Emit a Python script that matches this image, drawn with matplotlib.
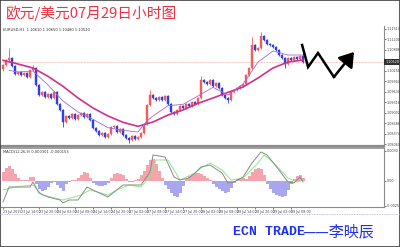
import matplotlib
matplotlib.use('Agg')
import matplotlib.pyplot as plt
import matplotlib.transforms as mtransforms
from matplotlib.lines import Line2D
from matplotlib.patches import Rectangle
import numpy as np

# ---------------- data ----------------
title = '欧元/美元07月29日小时图'
signature_latin = 'ECN TRADE'
signature_cjk = '——李映辰'

first_open = 1.1030
closes = [1.1043, 1.1058, 1.1064, 1.1040, 1.1016, 1.1022, 1.1013, 1.1019, 1.1007, 1.1028,
          1.1034, 1.0983, 1.0953, 1.0962, 1.0947, 1.0956, 1.0944, 1.0962, 1.0926, 1.0908,
          1.0872, 1.0890, 1.0884, 1.0896, 1.0881, 1.0893, 1.0899, 1.0887, 1.0896, 1.0878,
          1.0854, 1.0845, 1.0833, 1.0839, 1.0827, 1.0836, 1.0857, 1.0860, 1.0842, 1.0851,
          1.0833, 1.0824, 1.0818, 1.0830, 1.0821, 1.0827, 1.0839, 1.0866, 1.0923, 1.0953,
          1.0944, 1.0938, 1.0947, 1.0938, 1.0950, 1.0926, 1.0902, 1.0896, 1.0908, 1.0920,
          1.0914, 1.0926, 1.0920, 1.0932, 1.0926, 1.0944, 1.0998, 1.0992, 1.0986, 1.0998,
          1.0980, 1.0989, 1.0974, 1.0953, 1.0944, 1.0938, 1.0962, 1.0968, 1.0974, 1.0980,
          1.0986, 1.1013, 1.1034, 1.1103, 1.1088, 1.1094, 1.1130, 1.1118, 1.1106, 1.1103,
          1.1097, 1.1088, 1.1073, 1.1064, 1.1046, 1.1064, 1.1058, 1.1067, 1.1061, 1.1070,
          1.1052]
wick = 0.0004
high_marks = {2: 1.1094, 10: 1.1043, 49: 1.0968, 66: 1.1010, 83: 1.1127, 86: 1.1142, 100: 1.1097}
low_marks = {20: 1.0857, 42: 1.0809, 75: 1.0929, 94: 1.1034}

slow_idx = [0, 5, 10, 15, 20, 25, 30, 35, 40, 45, 50, 55, 60, 65, 70, 75, 80, 85, 90, 95, 100]
slow_ma = [1.1057, 1.1046, 1.1034, 1.1009, 1.0979, 1.0944, 1.0914, 1.0890, 1.0871, 1.0859, 1.0872,
           1.0893, 1.0908, 1.0928, 1.0944, 1.0961, 1.0977, 1.1004, 1.1034, 1.1052, 1.1058]
fast_idx = [2, 5, 10, 15, 20, 25, 30, 35, 40, 45, 48, 50, 55, 60, 65, 70, 75, 80, 83, 85, 90, 95, 100]
fast_ma = [1.1027, 1.1022, 1.1025, 1.0983, 1.0935, 1.0902, 1.0880, 1.0855, 1.0847, 1.0842, 1.0875,
           1.0890, 1.0921, 1.0925, 1.0950, 1.0976, 1.0953, 1.0986, 1.1025, 1.1052, 1.1085, 1.1073, 1.1073]
bid_price = 1.1052

zigzag_x = [99.7, 101.7, 105.0, 110.3]
zigzag_y = [1.1103, 1.1037, 1.1079, 1.1007]
arrow_tip = (117.0, 1.1082)

price_ticks = [1.0806, 1.08374, 1.08688, 1.09002, 1.09316, 1.0963, 1.09944, 1.10258,
               1.10572, 1.10886, 1.112, 1.11514]

macd_hist = [0.0009, 0.0013, 0.0015, 0.0012, 0.0007, 0.0003, 0.0001, 0.00005, 0.0001, 0.0004,
             0.0004, -0.0003, -0.0008, -0.0010, -0.0009, -0.0006, -0.0002, -0.0001, -0.0004, -0.0007,
             -0.0010, -0.0003, -0.0001, 0.00005, 0.0001, 0.0003, 0.0006, 0.0009, 0.0008, 0.0003,
             -0.0002, -0.0004, -0.0005, -0.0005, -0.0004, -0.0002, 0.0003, 0.0007, 0.0008, 0.0007,
             0.0006, 0.0002, -0.0001, -0.0001, 0.00005, 0.0002, 0.0006, 0.0010, 0.0016, 0.0021,
             0.0022, 0.0017, 0.0010, 0.0003, -0.0004, -0.0008, -0.0012, -0.0015, -0.0016, -0.0012,
             -0.0005, 0.0002, 0.0005, 0.0007, 0.0008, 0.0008, 0.0007, 0.0005, 0.0003, 0.0001,
             -0.0003, -0.0006, -0.0008, -0.0010, -0.0012, -0.0011, -0.0007, -0.0002, 0.0002, 0.0003,
             0.0003, 0.0002, 0.0005, 0.0009, 0.0012, 0.0013, 0.0012, 0.0006, -0.0003, -0.0008,
             -0.0012, -0.0014, -0.0015, -0.0016, -0.0015, -0.0009, -0.0003, 0.0002, 0.0005, 0.0006,
             0.0003]
macd_idx = [0, 2, 9, 10, 12, 15, 19, 20, 22, 25, 28, 30, 35, 37, 40, 46, 49, 50, 54, 57, 59, 62,
            64, 66, 69, 73, 75, 77, 80, 83, 86, 88, 92, 95, 97, 99, 100]
macd_line = [-0.00215, -0.00065, -0.00065, -0.00015, -0.00125, -0.00165, -0.00195, -0.00225,
             -0.00195, -0.00195, -0.00065, -0.00095, -0.00165, -0.00115, -0.00045, -0.00045,
             0.00085, 0.00255, 0.00235, 0.00035, 0.00005, 0.00025, 0.00075, 0.00135, 0.00155,
             0.00075, -0.00025, -0.00015, 0.00035, 0.00175, 0.00285, 0.00255, 0.00105,
             -0.00015, -0.00025, 0.00035, -0.00015]
signal_idx = [0, 4, 10, 13, 16, 20, 26, 29, 35, 38, 42, 46, 49, 51, 55, 59, 64, 66, 69, 73, 76,
              80, 85, 87, 90, 95, 98, 100]
signal_line = [-0.00095, -0.00065, -0.00045, -0.00145, -0.00165, -0.00195, -0.00145, -0.00095,
               -0.00145, -0.00095, -0.00045, -0.00065, 0.00035, 0.00205, 0.00205, 0.00005,
               0.00075, 0.00125, 0.00175, 0.00105, 0.00005, 0.00025, 0.00175, 0.00255, 0.00185,
               0.00025, -0.00015, 0.00005]

time_idx = [0, 6, 12, 18, 24, 30, 36, 42, 48, 54, 60, 66, 72, 78, 84, 90, 96]
time_labels = ['23 Jul 2015', '23 Jul 14:00', '23 Jul 20:00', '24 Jul 02:00', '24 Jul 08:00',
               '24 Jul 14:00', '24 Jul 20:00', '27 Jul 02:00', '27 Jul 08:00', '27 Jul 14:00',
               '27 Jul 20:00', '28 Jul 02:00', '28 Jul 08:00', '28 Jul 14:00', '28 Jul 20:00',
               '29 Jul 02:00', '29 Jul 08:00']

# ---------------- figure ----------------
W, H = 400, 247
fig = plt.figure(figsize=(W / 100, H / 100), dpi=100)
fig.patch.set_facecolor('white')

def fx(px):
    return px / W

def fy(py):
    return 1 - py / H

ax1 = fig.add_axes([fx(1), fy(146), fx(383), 120 / H])
ax2 = fig.add_axes([fx(1), fy(207), fx(383), 59 / H])

xmin, xmax = -0.67, 127.0
gray = '#8c8c8c'

# candles
n = len(closes)
idx = np.arange(n)
opens = [first_open] + closes[:-1]
o = np.array(opens)
c = np.array(closes)
hi = np.maximum(o, c) + wick
lo = np.minimum(o, c) - wick
for k, v in high_marks.items():
    hi[k] = v
for k, v in low_marks.items():
    lo[k] = v
up = c >= o
up_col, dn_col = '#f45c5c', '#2f3fe0'
cols = np.where(up, up_col, dn_col)
ax1.vlines(idx, lo, hi, colors=cols, lw=0.6, zorder=3)
ax1.bar(idx, np.abs(c - o) + 0.00005, bottom=np.minimum(o, c), width=0.62,
        color=cols, edgecolor=cols, lw=0.3, zorder=4)

# MAs
ax1.plot(slow_idx, slow_ma, color='#d0318a', lw=1.2, zorder=5)
ax1.plot(fast_idx, fast_ma, color='#a06ad8', lw=0.6, zorder=5)

# bid line
ax1.axhline(bid_price, color='#f08a8a', lw=0.5, ls=(0, (1, 1.2)), zorder=2)

# zigzag arrow
ax1.plot(zigzag_x, zigzag_y, color='black', lw=1.8, solid_joinstyle='miter', zorder=6)
ax1.annotate('', xy=arrow_tip, xytext=(zigzag_x[-1], zigzag_y[-1]),
             arrowprops=dict(arrowstyle='-|>,head_length=0.6,head_width=0.4', color='black',
                             lw=1.8, mutation_scale=14, shrinkA=0, shrinkB=0), zorder=6)

ax1.set_xlim(xmin, xmax)
ax1.set_ylim(1.0800, 1.1160)
for s in ['top', 'left']:
    ax1.spines[s].set_visible(False)
ax1.spines['right'].set_color(gray)
ax1.spines['right'].set_linewidth(0.8)
ax1.spines['bottom'].set_color(gray)
ax1.spines['bottom'].set_linewidth(1.6)
ax1.set_xticks([])
ax1.yaxis.tick_right()
ax1.set_yticks(price_ticks)
ax1.set_yticklabels(['%.5f' % v for v in price_ticks])
ax1.tick_params(axis='y', length=1.2, width=0.5, pad=0.6, labelsize=2.4, colors='#444444')
trans = mtransforms.blended_transform_factory(ax1.transAxes, ax1.transData)
ax1.text(1.003, bid_price, '%.5f' % bid_price, transform=trans, ha='left', va='center',
         fontsize=2.4, color='white', zorder=10,
         bbox=dict(facecolor='#303030', edgecolor='none', pad=0.5))
ax1.text(0.004, 0.985, 'EURUSD,H1  1.10610 1.10650 1.10480 1.10520', transform=ax1.transAxes,
         fontsize=2.6, color='#333333', ha='left', va='top')

# MACD panel
hist = np.array(macd_hist)
hcols = np.where(hist >= 0, '#f5a3ad', '#a9a6f0')
ax2.bar(idx, hist, width=1.0, color=hcols, lw=0, zorder=2)
ax2.plot(macd_idx, macd_line, color='#8a8a8a', lw=0.7, zorder=4)
ax2.plot(signal_idx, signal_line, color='#8ee68e', lw=0.7, zorder=3)
ax2.set_xlim(xmin, xmax)
ax2.set_ylim(-0.00265, 0.00325)
ax2.spines['left'].set_visible(False)
for s in ['top', 'right', 'bottom']:
    ax2.spines[s].set_color(gray)
ax2.spines['top'].set_linewidth(1.2)
ax2.spines['right'].set_linewidth(0.8)
ax2.spines['bottom'].set_linewidth(0.8)
ax2.yaxis.tick_right()
ax2.set_yticks([0.0030, 0.0, -0.0025])
ax2.set_yticklabels(['0.0030', '0.00', '-0.0025'])
ax2.tick_params(axis='y', length=1.2, width=0.5, pad=0.6, labelsize=2.4, colors='#444444')
ax2.set_xticks(time_idx)
ax2.set_xticklabels(time_labels)
for lab in ax2.get_xticklabels():
    lab.set_horizontalalignment('left')
ax2.tick_params(axis='x', length=1.2, width=0.5, pad=0.8, labelsize=2.3, colors='#444444')
ax2.text(0.004, 0.97, 'MACD(12,26,9) 0.000301 -0.000153', transform=ax2.transAxes,
         fontsize=2.6, color='#333333', ha='left', va='top')

# dotted separator under time axis
fig.add_artist(Line2D([0, 1], [fy(214), fy(214)], transform=fig.transFigure,
                      color='#b7a8d8', lw=0.6, ls=(0, (1, 1))))

# title and signature
fig.text(fx(6), fy(13), title, color='#ec3444', fontsize=10.6,
         family=['Noto Sans CJK SC', 'DejaVu Sans'], ha='left', va='center')
fig.text(fx(233), fy(232), signature_latin, color='#2030f0', fontsize=9.5, weight='bold',
         family=['Liberation Mono', 'Noto Sans CJK SC'], ha='left', va='center')
fig.text(fx(302), fy(232), signature_cjk, color='#2030f0', fontsize=10.8,
         family=['Noto Sans CJK SC', 'DejaVu Sans'], ha='left', va='center')

# outer frame
fig.add_artist(Rectangle((0, 0), 1, 1, transform=fig.transFigure, fill=False,
                         edgecolor='#404040', lw=1.2))

fig.savefig('out.png', dpi=100, facecolor='white')
